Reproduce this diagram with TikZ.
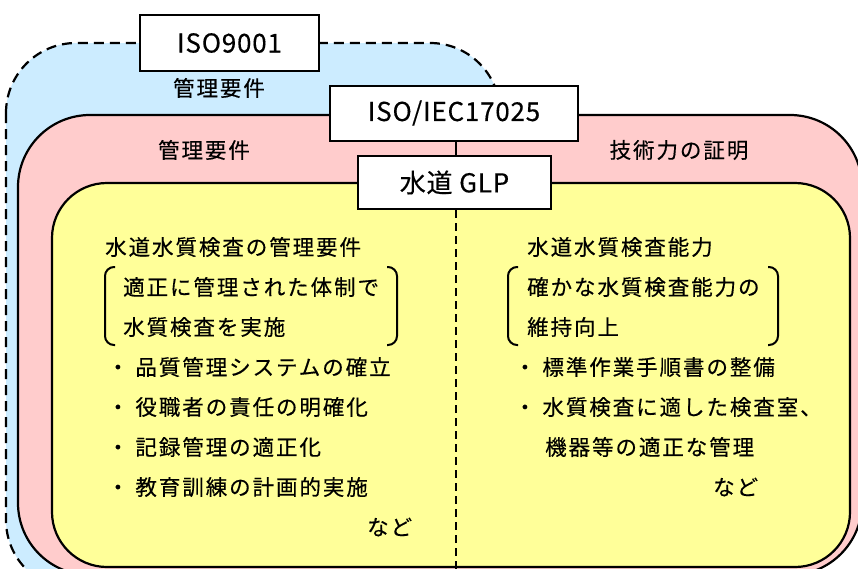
\documentclass[tikz,border=0pt]{standalone}
\usepackage{fontspec}
\setmainfont{Noto Sans CJK JP}
\newfontfamily\jbody[LetterSpace=9, FakeBold=0.4]{Noto Sans CJK JP}
\newfontfamily\jlab[LetterSpace=3, FakeBold=0.3]{Noto Sans CJK JP}
\definecolor{cblue}{RGB}{204,236,255}
\definecolor{cpink}{RGB}{255,204,204}
\definecolor{cyel}{RGB}{255,255,153}
\tikzset{
  zone/.style={draw=black, line width=2.2pt},
  lbox/.style={draw=black, fill=white, line width=2pt, inner sep=0pt, font=\jlab\fontsize{26}{30}\selectfont},
  body/.style={anchor=west, inner sep=0pt, font=\jbody\fontsize{21.5}{25}\selectfont},
  head/.style={inner sep=0pt, font=\jbody\fontsize{21.5}{25}\selectfont},
  brk/.style={draw=black, line width=2pt, rounded corners=9pt},
}
\begin{document}
\begin{tikzpicture}[x=1pt, y=-1pt]
\useasboundingbox (0,0) rectangle (858,568);
\clip (0,0) rectangle (858,568);
% zones
\draw[fill=cblue, line width=2.2pt, dash pattern=on 10pt off 6pt, rounded corners=70pt] (6,43) rectangle (500,590);
\draw[zone, fill=cpink, rounded corners=72pt] (18,115) rectangle (862,575);
\draw[zone, fill=cyel, rounded corners=55pt] (52,183) rectangle (850,567);
% boxes
\node[lbox, minimum width=179pt, minimum height=56pt] (iso9001) at (229.5,43) {ISO9001};
\node[lbox, minimum width=248pt, minimum height=55pt] (iso17025) at (454,113) {ISO/IEC17025};
\node[lbox, minimum width=193pt, minimum height=53pt] (glp) at (454.5,182.5) {水道 GLP};
\coordinate (bottom) at (456,570);
\draw[line width=2pt] (iso17025.south -| 456,0) -- (glp.north -| 456,0);
\draw[line width=2pt, dash pattern=on 8pt off 5pt] (glp.south -| 456,0) -- (bottom);
% zone labels
\node[head] (lblue) at (219,88) {管理要件};
\node[head] (lpink) at (204,150) {管理要件};
\node[head] (ltech) at (679,150) {技術力の証明};
% left column
\node[body] (l1) at (105,247) {水道水質検査の管理要件};
\node[body] (l2) at (123,287) {適正に管理された体制で};
\node[body] (l3) at (123,327) {水質検査を実施};
\node[body] (l4) at (107,367) {・ 品質管理システムの確立};
\node[body] (l5) at (107,407) {・ 役職者の責任の明確化};
\node[body] (l6) at (107,447) {・ 記録管理の適正化};
\node[body] (l7) at (107,487) {・ 教育訓練の計画的実施};
\node[body] (l8) at (367,527) {など};
\draw[brk] (115,267) -- (105,267) -- (105,345) -- (115,345);
\draw[brk] (387,267) -- (397,267) -- (397,345) -- (387,345);
% right column
\node[body] (r1) at (527,247) {水道水質検査能力};
\node[body] (r2) at (527,287) {確かな水質検査能力の};
\node[body] (r3) at (527,327) {維持向上};
\node[body] (r4) at (514,367) {・ 標準作業手順書の整備};
\node[body] (r5) at (514,407) {・ 水質検査に適した検査室、};
\node[body] (r6) at (545,447) {機器等の適正な管理};
\node[body] (r7) at (713,487) {など};
\draw[brk] (518,267) -- (508,267) -- (508,345) -- (518,345);
\draw[brk] (768,267) -- (778,267) -- (778,345) -- (768,345);
\end{tikzpicture}
\end{document}
